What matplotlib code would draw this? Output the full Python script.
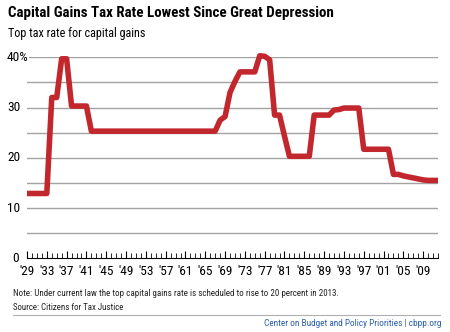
import matplotlib
matplotlib.use('Agg')
import matplotlib.pyplot as plt
import matplotlib.transforms as mtransforms
from matplotlib import font_manager

# pick the narrowest family that is installed
family = 'DejaVu Sans'
for name in ['Roboto Condensed', 'Liberation Sans Narrow', 'DejaVu Sans Condensed', 'Roboto']:
    try:
        font_manager.findfont(name, fallback_to_default=False)
        family = name
        break
    except Exception:
        pass
plt.rcParams['font.family'] = [family, 'DejaVu Sans']

years = list(range(1929, 2013))
rates = [12.9, 12.9, 12.9, 12.9, 12.9,          # 1929-33
         32.0, 32.0, 39.7, 39.7,                # 1934-37
         30.3, 30.3, 30.3, 30.3,                # 1938-41
         25.3, 25.3, 25.3, 25.3, 25.3, 25.3, 25.3, 25.3, 25.3, 25.3,  # 1942-51
         25.3, 25.3, 25.3, 25.3, 25.3, 25.3, 25.3, 25.3, 25.3, 25.3,  # 1952-61
         25.3, 25.3, 25.3, 25.3, 25.3, 25.3,    # 1962-67
         27.5, 28.2, 33.0, 35.2, 37.1, 37.1, 37.1, 37.1,  # 1968-75
         40.3, 40.2, 39.5, 28.5, 28.5, 24.3,    # 1976-81
         20.3, 20.3, 20.3, 20.3, 20.3,          # 1982-86
         28.5, 28.5, 28.5, 28.5,                # 1987-90
         29.5, 29.6, 29.9, 29.9, 29.9, 29.9,    # 1991-96
         21.7, 21.7, 21.7, 21.7, 21.7, 21.7,    # 1997-2002
         16.7, 16.7, 16.4, 16.2, 16.0, 15.8, 15.6, 15.5, 15.5, 15.5]  # 2003-12

label_years = list(range(1929, 2010, 4))
x_labels = ["'" + str(y)[2:] for y in label_years]
grid_vals = [5, 10, 15, 20, 25, 30, 35, 40]
y_label_vals = [40, 30, 20, 10]
y_labels = ['40%', '30', '20', '10']

W, H = 450, 332
fig = plt.figure(figsize=(4.5, 3.32), dpi=100)
renderer = fig.canvas.get_renderer()


def fit(t, width_px):
    # scale font size so the text spans the width seen in the reference
    w = t.get_window_extent(renderer=renderer).width
    t.set_fontsize(t.get_fontsize() * width_px / w)
    return t.get_fontsize()


ax = fig.add_axes([27 / W, 1 - 258.3 / H, 411 / W, (258.3 - 57.3) / H])

red = '#c1272d'
for g in grid_vals:
    ax.axhline(g, color='#a3a3a3', lw=1.0, zorder=1)
ax.plot(years, rates, color=red, lw=4.0, solid_joinstyle='round',
        solid_capstyle='butt', clip_on=False, zorder=3)

ax.set_xlim(1929, 2012)
ax.set_ylim(0, 40)
for s in ['top', 'right', 'left']:
    ax.spines[s].set_visible(False)
ax.spines['bottom'].set_linewidth(0.8)
ax.set_yticks([])

probe = fig.text(0, 0, "'29", fontsize=10)
tick_fs = fit(probe, 15.5)
probe.remove()

ax.set_xticks(label_years)
ax.set_xticklabels(x_labels, fontsize=tick_fs)
ax.set_xticks(years, minor=True)
ax.tick_params(axis='x', which='major', direction='in', length=5, width=0.8, pad=5)
ax.tick_params(axis='x', which='minor', direction='in', length=3.5, width=0.6)

trans = mtransforms.blended_transform_factory(fig.transFigure, ax.transData)
for v, lab in zip(y_label_vals, y_labels):
    ax.text(7 / W, v, lab, transform=trans, ha='left', va='center', fontsize=tick_fs,
            bbox=dict(facecolor='white', edgecolor='none', pad=0.5), zorder=4)
ax.text(12 / W, 0, '0', transform=trans, ha='left', va='center', fontsize=tick_fs)

t = fig.text(8 / W, 1 - 13 / H, 'Capital Gains Tax Rate Lowest Since Great Depression',
             fontsize=12, fontweight='bold', ha='left', va='center')
fit(t, 327)
t = fig.text(8 / W, 1 - 34 / H, 'Top tax rate for capital gains', fontsize=10,
             ha='left', va='center')
fit(t, 137)
t = fig.text(13 / W, 1 - 293 / H,
             'Note: Under current law the top capital gains rate is scheduled to rise to 20 percent in 2013.',
             fontsize=7, ha='left', va='center', color='#222222')
fit(t, 329)
t = fig.text(13 / W, 1 - 307 / H, 'Source: Citizens for Tax Justice', fontsize=7,
             ha='left', va='center', color='#222222')
fit(t, 112)
fig.add_artist(plt.Line2D([13 / W, 440 / W], [1 - 315 / H, 1 - 315 / H],
                          color='#b0b0b0', lw=0.8))
t = fig.text(441 / W, 1 - 323 / H, 'Center on Budget and Policy Priorities | cbpp.org',
             fontsize=7, color='#2a5ea8', ha='right', va='center')
fit(t, 179)

fig.savefig('out.png', dpi=100)
